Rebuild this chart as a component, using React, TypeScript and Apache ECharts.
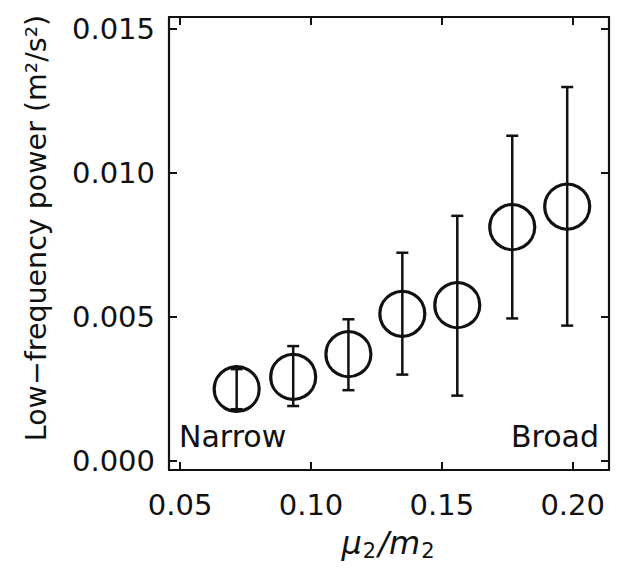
import React, { useEffect, useRef } from "react";
import * as echarts from "echarts";

const xValues = [0.0716, 0.0932, 0.1143, 0.1349, 0.1559, 0.1769, 0.1979];
const powerValues = [0.00249, 0.00291, 0.0037, 0.0051, 0.0054, 0.00811, 0.00882];
const errLow = [0.00179, 0.0019, 0.00245, 0.00299, 0.00226, 0.00494, 0.00469];
const errHigh = [0.00318, 0.00398, 0.00491, 0.00722, 0.0085, 0.01128, 0.01297];
const xTicks = [0.05, 0.1, 0.15, 0.2];
const yTicks = [0.0, 0.005, 0.01, 0.015];

const INK = "#111111";
const FONT = "DejaVu Sans";

export default function App() {
  const ref = useRef<HTMLDivElement>(null);
  useEffect(() => {
    if (!ref.current) return;
    const chart = echarts.init(ref.current, undefined, { renderer: "svg" });
    const xMin = 0.04574;
    const xMax = 0.21387;
    const yMin = -0.00032;
    const yMax = 0.0154;
    const axisLine = { show: true, onZero: false, lineStyle: { color: INK, width: 2.2 } };
    const xTick = {
      show: true,
      inside: true,
      length: 8,
      customValues: xTicks,
      lineStyle: { color: INK, width: 2 },
    };
    const yTick = {
      show: true,
      inside: true,
      length: 8,
      customValues: yTicks,
      lineStyle: { color: INK, width: 2 },
    };
    chart.setOption({
      animation: false,
      backgroundColor: "#ffffff",
      grid: { left: 169, top: 17, right: 8, bottom: 98, containLabel: false },
      xAxis: [
        {
          type: "value",
          position: "bottom",
          min: xMin,
          max: xMax,
          axisLine,
          axisTick: xTick,
          splitLine: { show: false },
          axisLabel: {
            show: true,
            customValues: xTicks,
            formatter: (v: number) => v.toFixed(2),
            color: INK,
            fontFamily: FONT,
            fontSize: 29,
            margin: 20,
          },
        },
        {
          type: "value",
          position: "top",
          min: xMin,
          max: xMax,
          axisLine,
          axisTick: xTick,
          splitLine: { show: false },
          axisLabel: { show: false },
        },
      ],
      yAxis: [
        {
          type: "value",
          position: "left",
          min: yMin,
          max: yMax,
          axisLine,
          axisTick: yTick,
          splitLine: { show: false },
          axisLabel: {
            show: true,
            customValues: yTicks,
            formatter: (v: number) => v.toFixed(3),
            color: INK,
            fontFamily: FONT,
            fontSize: 29,
            margin: 14,
          },
        },
        {
          type: "value",
          position: "right",
          min: yMin,
          max: yMax,
          axisLine,
          axisTick: yTick,
          splitLine: { show: false },
          axisLabel: { show: false },
        },
      ],
      series: [
        {
          type: "scatter",
          xAxisIndex: 0,
          yAxisIndex: 0,
          symbol: "circle",
          symbolSize: 45,
          itemStyle: { color: "rgba(0,0,0,0)", borderColor: INK, borderWidth: 3.2, opacity: 1 },
          data: xValues.map((x, i) => [x, powerValues[i]]),
          z: 2,
        },
        {
          type: "custom",
          xAxisIndex: 0,
          yAxisIndex: 0,
          z: 3,
          data: xValues.map((x, i) => [x, errLow[i], errHigh[i]]),
          renderItem: (params: any, api: any) => {
            const lo = api.coord([api.value(0), api.value(1)]);
            const hi = api.coord([api.value(0), api.value(2)]);
            const cap = 6;
            const style = { stroke: INK, lineWidth: 2.5 };
            return {
              type: "group",
              children: [
                { type: "line", shape: { x1: lo[0], y1: lo[1], x2: hi[0], y2: hi[1] }, style },
                { type: "line", shape: { x1: lo[0] - cap, y1: lo[1], x2: lo[0] + cap, y2: lo[1] }, style },
                { type: "line", shape: { x1: hi[0] - cap, y1: hi[1], x2: hi[0] + cap, y2: hi[1] }, style },
              ],
            };
          },
        },
      ],
      graphic: [
        {
          type: "text",
          x: 179,
          y: 421,
          style: {
            text: "Narrow",
            fill: INK,
            font: `30px '${FONT}'`,
            align: "left",
            verticalAlign: "top",
          },
        },
        {
          type: "text",
          x: 599,
          y: 421,
          style: {
            text: "Broad",
            fill: INK,
            font: `30px '${FONT}'`,
            align: "right",
            verticalAlign: "top",
          },
        },
        {
          type: "text",
          x: 36,
          y: 228,
          rotation: Math.PI / 2,
          style: {
            text: "Low\u2212frequency power (m\u00b2/s\u00b2)",
            fill: INK,
            font: `28.5px '${FONT}'`,
            align: "center",
            verticalAlign: "middle",
          },
        },
        {
          type: "text",
          x: 389,
          y: 543,
          style: {
            text: "{a|\u03bc}{b|2}{a|/m}{b|2}",
            fill: INK,
            align: "center",
            verticalAlign: "middle",
            rich: {
              a: { fontFamily: FONT, fontStyle: "italic", fontSize: 32, fill: INK },
              b: { fontFamily: FONT, fontSize: 21, fill: INK, padding: [15, 2, 0, 1] },
            },
          },
        },
      ],
    });
    return () => chart.dispose();
  }, []);
  return (
    <div
      ref={ref}
      style={{ position: "fixed", left: 0, top: 0, width: 617, height: 568 }}
    />
  );
}
